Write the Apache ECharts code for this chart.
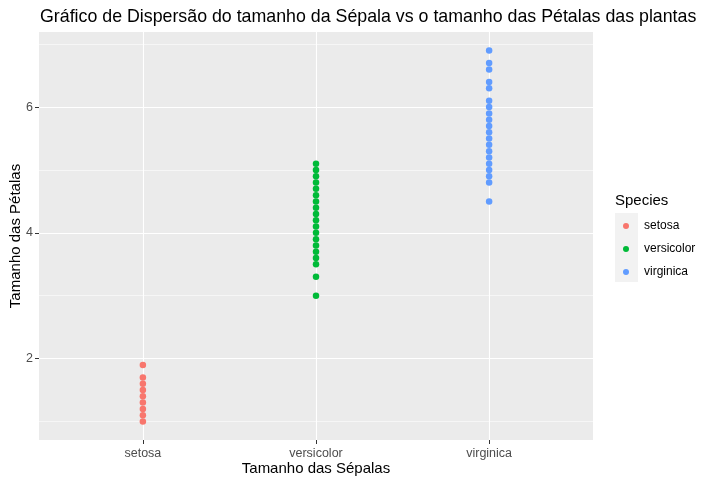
<!DOCTYPE html>
<html>
<head>
<meta charset="utf-8">
<script src="https://cdn.jsdelivr.net/npm/echarts@6/dist/echarts.min.js"></script>
<style>html,body{margin:0;padding:0;background:#fff}#c{width:713px;height:485px}</style>
</head>
<body>
<div id="c"></div>
<script>
const categories = ['setosa', 'versicolor', 'virginica'];
const setosaPetal = [1.0, 1.1, 1.2, 1.3, 1.4, 1.5, 1.6, 1.7, 1.9];
const versicolorPetal = [3.0, 3.3, 3.5, 3.6, 3.7, 3.8, 3.9, 4.0, 4.1, 4.2, 4.3, 4.4, 4.5, 4.6, 4.7, 4.8, 4.9, 5.0, 5.1];
const virginicaPetal = [4.5, 4.8, 4.9, 5.0, 5.1, 5.2, 5.3, 5.4, 5.5, 5.6, 5.7, 5.8, 5.9, 6.0, 6.1, 6.3, 6.4, 6.6, 6.7, 6.9];
const yTicks = [2, 4, 6];
const yMinorTicks = [1, 3, 5, 7];
const colors = ['#F8766D', '#00BA38', '#619CFF'];

const seriesValues = [setosaPetal, versicolorPetal, virginicaPetal];
const FONT = '"Liberation Sans", Arial, sans-serif';

const chart = echarts.init(document.getElementById('c'), null, {renderer: 'canvas'});
const option = {
  animation: false,
  backgroundColor: '#ffffff',
  title: {
    text: 'Gráfico de Dispersão do tamanho da Sépala vs o tamanho das Pétalas das plantas',
    left: 35, top: 3,
    textStyle: {fontFamily: FONT, fontSize: 17.8, fontWeight: 'normal', color: '#000'}
  },
  grid: {left: 39, right: 120, top: 32, bottom: 45, show: true, backgroundColor: '#EBEBEB', borderWidth: 0, outerBoundsMode: 'none', containLabel: false},
  legend: {
    orient: 'vertical', left: 623, top: 220, itemGap: 11, padding: 0,
    icon: 'circle', itemWidth: 6, itemHeight: 6,
    data: categories,
    textStyle: {fontFamily: FONT, fontSize: 12, color: '#000', padding: [0, 0, 0, 10]}
  },
  graphic: [
    {type: 'rect', left: 615, top: 213, shape: {width: 23, height: 69}, style: {fill: '#F2F2F2'}, z: -1},
    {type: 'text', left: 615, top: 193, style: {text: 'Species', font: '15px ' + FONT, fill: '#000'}}
  ],
  xAxis: {
    type: 'value', min: 0.4, max: 3.6,
    name: 'Tamanho das Sépalas', nameLocation: 'middle', nameGap: 21, nameMoveOverlap: false,
    nameTextStyle: {fontFamily: FONT, fontSize: 15, color: '#000'},
    axisLine: {show: false},
    axisTick: {show: true, length: 4, customValues: [1, 2, 3], lineStyle: {color: '#333333', width: 1}},
    axisLabel: {customValues: [1, 2, 3], formatter: v => categories[Math.round(v) - 1], fontFamily: FONT, fontSize: 12.5, color: '#4D4D4D', margin: 7},
    splitLine: {show: true, lineStyle: {color: '#ffffff', width: 1.1}}
  },
  yAxis: [{
    type: 'value', min: 0.705, max: 7.195,
    name: 'Tamanho das Pétalas', nameLocation: 'middle', nameGap: 16, nameRotate: 90, nameMoveOverlap: false,
    nameTextStyle: {fontFamily: FONT, fontSize: 15, color: '#000'},
    axisLine: {show: false},
    axisTick: {show: true, length: 4, customValues: yTicks, lineStyle: {color: '#333333', width: 1}},
    axisLabel: {customValues: yTicks, fontFamily: FONT, fontSize: 12.5, color: '#4D4D4D', margin: 6},
    splitLine: {show: true, lineStyle: {color: '#ffffff', width: 1.1}}
  }, {
    type: 'value', min: 0.705, max: 7.195, position: 'left',
    axisLine: {show: false},
    axisTick: {show: false, customValues: yMinorTicks},
    axisLabel: {show: false, customValues: yMinorTicks},
    splitLine: {show: true, lineStyle: {color: '#ffffff', width: 0.55}}
  }],
  series: categories.map((name, i) => ({
    name: name,
    type: 'scatter',
    symbol: 'circle',
    symbolSize: 6.5,
    itemStyle: {color: colors[i], opacity: 1, borderWidth: 0},
    data: seriesValues[i].map(v => [i + 1, v])
  }))
};
chart.setOption(option);
</script>
</body>
</html>
